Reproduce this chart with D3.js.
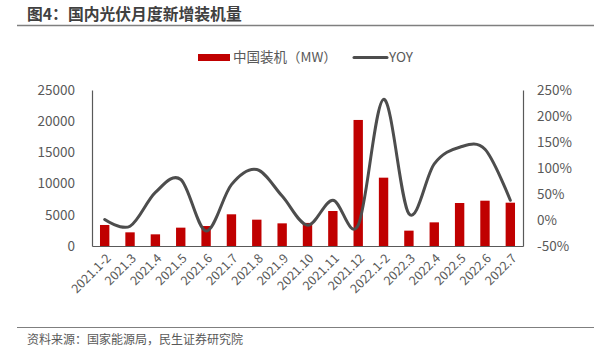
<!DOCTYPE html>
<html>
<head>
<meta charset="utf-8">
<script src="https://cdn.jsdelivr.net/npm/d3@7"></script>
<style>
  body { margin: 0; background: #fff; }
  svg { font-family: "Noto Sans CJK SC", "Noto Sans", sans-serif; }
</style>
</head>
<body>
<div id="chart"></div>
<script>
// Hardcoded data
const months = ["2021.1-2", "2021.3", "2021.4", "2021.5", "2021.6", "2021.7", "2021.8", "2021.9",
    "2021.10", "2021.11", "2021.12", "2022.1-2", "2022.3", "2022.4", "2022.5", "2022.6", "2022.7"];
const installed = [3370, 2190, 1870, 2940, 3200, 5080, 4220, 3630, 3700, 5610, 20200, 10950, 2460, 3790, 6890, 7260, 6940];
const yoy = [1, -12, 53, 78, -21, 68, 97, 46, -10, 38, -10, 232, 12, 108, 140, 136, 38];
const leftTicks = [0, 5000, 10000, 15000, 20000, 25000];
const rightTicks = [-50, 0, 50, 100, 150, 200, 250];

const width = 594, height = 352;
const plotL = 92, plotR = 523, plotT = 90, plotB = 246;

const svg = d3.select("#chart")
    .append("svg")
    .attr("width", width)
    .attr("height", height);

// title + rules
svg.append("text")
    .attr("x", 27).attr("y", 20)
    .attr("font-size", 15.8).attr("font-weight", "bold")
    .attr("fill", "#404040")
    .text("图4：国内光伏月度新增装机量");
svg.append("line")
    .attr("x1", 17).attr("x2", width).attr("y1", 25.5).attr("y2", 25.5)
    .attr("stroke", "#7f7f7f").attr("stroke-width", 1.5);
svg.append("line")
    .attr("x1", 17).attr("x2", width).attr("y1", 327.5).attr("y2", 327.5)
    .attr("stroke", "#7f7f7f").attr("stroke-width", 1.2);
svg.append("text")
    .attr("x", 27).attr("y", 344)
    .attr("font-size", 12).attr("fill", "#595959")
    .text("资料来源：国家能源局，民生证券研究院");

const x = d3.scaleBand().domain(months).range([plotL, plotR]).paddingInner(0.63).paddingOuter(0.315);
const xc = d => x(d) + x.bandwidth() / 2;
const y = d3.scaleLinear().domain([0, 25000]).range([plotB, plotT]);
const y2 = d3.scaleLinear().domain([-50, 250]).range([plotB, plotT]);

// bars
svg.selectAll("rect.bar")
    .data(months)
    .enter().append("rect")
    .attr("class", "bar")
    .attr("x", d => x(d))
    .attr("width", x.bandwidth())
    .attr("y", (d, i) => y(installed[i]))
    .attr("height", (d, i) => y(0) - y(installed[i]))
    .attr("fill", "#c00000");

// axes
const axisLeft = svg.append("g")
    .attr("transform", `translate(${plotL},0)`)
    .call(d3.axisLeft(y).tickValues(leftTicks).tickSize(0).tickPadding(17).tickFormat(d3.format("d")));
const axisRight = svg.append("g")
    .attr("transform", `translate(${plotR},0)`)
    .call(d3.axisRight(y2).tickValues(rightTicks).tickSize(0).tickPadding(14).tickFormat(d => d + "%"));
const axisBottom = svg.append("g")
    .attr("transform", `translate(0,${plotB})`)
    .call(d3.axisBottom(x).tickSize(0).tickPadding(0));

[axisLeft, axisRight, axisBottom].forEach(g => {
    g.select(".domain").attr("stroke", "#595959").attr("stroke-width", 1.2);
    g.selectAll("text").attr("fill", "#595959").attr("font-size", 13.5)
        .attr("font-family", "\"Noto Sans CJK SC\", sans-serif");
});
axisBottom.selectAll("text")
    .attr("font-size", 12.5)
    .attr("text-anchor", "end")
    .attr("dy", 0)
    .attr("transform", "translate(7,13) rotate(-45)");

// yoy line
svg.append("path")
    .datum(yoy)
    .attr("fill", "none")
    .attr("stroke", "#4d4d4d")
    .attr("stroke-width", 3)
    .attr("stroke-linecap", "round")
    .attr("d", d3.line()
        .x((d, i) => xc(months[i]))
        .y(d => y2(d))
        .curve(d3.curveCardinal.tension(0))
    );

// legend
const legend = svg.append("g").attr("font-size", 13.5).attr("fill", "#595959");
legend.append("rect").attr("x", 198).attr("y", 54).attr("width", 32).attr("height", 7).attr("fill", "#c00000");
legend.append("text").attr("x", 233).attr("y", 62).text("中国装机（MW）");
legend.append("line").attr("x1", 354).attr("x2", 387).attr("y1", 57.5).attr("y2", 57.5)
    .attr("stroke", "#4d4d4d").attr("stroke-width", 3).attr("stroke-linecap", "round");
legend.append("text").attr("x", 389).attr("y", 62).text("YOY");
</script>
</body>
</html>
